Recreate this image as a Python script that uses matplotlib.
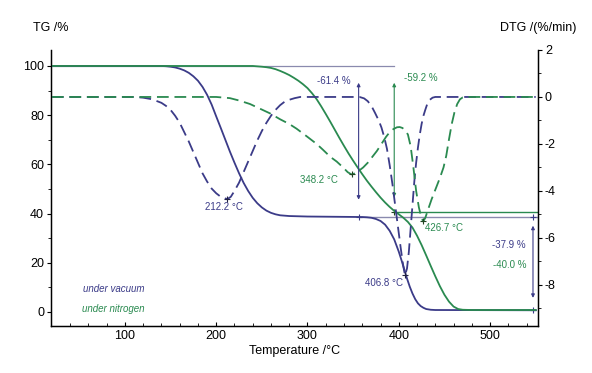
import matplotlib
matplotlib.use("Agg")
import matplotlib.pyplot as plt
import numpy as np

plt.rcParams['font.family'] = ['Liberation Sans', 'DejaVu Sans']

NAVY = '#3b3b88'
GREEN = '#2a8a50'
REF = '#8a8aae'

# TG under vacuum
tg_vac_T = [20, 140, 145, 150, 155, 160, 165, 170, 175, 180, 185, 190, 195, 200, 205, 210, 215,
            220, 225, 230, 235, 240, 245, 250, 255, 260, 265, 270, 280, 300, 360, 365, 370, 375,
            380, 385, 390, 395, 400, 403, 406, 409, 412, 415, 418, 421, 424, 427, 430, 435, 440, 550]
tg_vac = [100, 100, 99.9, 99.7, 99.4, 98.9, 98.2, 97.2, 95.8, 94, 91.5, 88.3, 84.3, 79.5, 74.8,
          70, 65.2, 60.7, 56.4, 52.5, 49.2, 46.4, 44.2, 42.5, 41.2, 40.3, 39.7, 39.3, 39, 38.8,
          38.6, 38.5, 38.3, 37.8, 37, 35.5, 33, 29.5, 24.5, 21, 17.3, 13.6, 10.3, 7.5, 5.2, 3.5,
          2.4, 1.7, 1.2, 0.9, 0.8, 0.7]

# TG under nitrogen
tg_n2_T = [20, 240, 250, 255, 260, 265, 270, 275, 280, 285, 290, 295, 300, 305, 310, 315, 320,
           325, 330, 335, 340, 345, 350, 355, 360, 365, 370, 375, 380, 385, 390, 395, 400, 405,
           410, 415, 420, 425, 430, 435, 440, 445, 450, 455, 460, 465, 470, 480, 550]
tg_n2 = [100, 100, 99.7, 99.5, 99.2, 98.7, 98, 97.2, 96.3, 95.2, 94, 92.6, 91, 88.9, 86.5, 83.6,
         80.5, 77.3, 74, 70.7, 67.5, 64.4, 61.5, 58.7, 56, 53.4, 51, 48.7, 46.5, 44.5, 42.7,
         41.1, 39.7, 38.3, 36.6, 34.3, 31, 27.2, 23, 18.7, 14.5, 10.5, 7, 4.2, 2.2, 1.2, 0.9,
         0.8, 0.8]

# DTG under vacuum
dtg_vac_T = [20, 110, 120, 130, 140, 145, 150, 155, 160, 165, 170, 175, 180, 185, 190, 195, 200,
             205, 212.2, 216, 220, 225, 230, 235, 240, 245, 250, 255, 260, 265, 270, 275, 280,
             286, 292, 357, 362, 366, 370, 374, 378, 381, 384, 387, 390, 393, 396, 399, 402,
             404.5, 406.8, 409, 411, 413, 415, 417, 419, 421, 423, 425, 427, 429, 431, 434, 437,
             440, 550]
dtg_vac = [0, 0, -0.03, -0.1, -0.25, -0.38, -0.55, -0.8, -1.1, -1.5, -1.9, -2.35, -2.8, -3.25,
           -3.6, -3.9, -4.1, -4.25, -4.35, -4.25, -4.0, -3.65, -3.2, -2.75, -2.3, -1.85, -1.45,
           -1.1, -0.8, -0.55, -0.35, -0.2, -0.12, -0.05, 0, 0, -0.06, -0.18, -0.38, -0.68, -1.0,
           -1.3, -1.7, -2.2, -2.9, -3.7, -4.6, -5.5, -6.4, -7.1, -7.6, -7.3, -6.6, -5.6, -4.6,
           -3.6, -2.8, -2.15, -1.6, -1.15, -0.8, -0.55, -0.32, -0.12, -0.03, 0, 0]

# DTG under nitrogen
dtg_n2_T = [20, 200, 215, 225, 237, 248, 259, 270, 280, 288, 300, 310, 317, 325, 332, 339, 344,
            348.2, 352, 356, 361, 366, 371, 376, 381, 386, 390, 394, 398, 401, 404, 407, 410,
            413, 416, 419, 422, 424.5, 426.7, 429, 432, 436, 440, 445, 449, 452, 455, 458, 461,
            464, 467, 470, 473, 550]
dtg_n2 = [0, 0, -0.05, -0.15, -0.3, -0.5, -0.7, -0.95, -1.15, -1.35, -1.7, -2.0, -2.25, -2.55,
          -2.75, -3.0, -3.2, -3.3, -3.25, -3.15, -3.0, -2.8, -2.55, -2.3, -2.0, -1.7, -1.5,
          -1.37, -1.29, -1.28, -1.32, -1.42, -1.6, -2.1, -3.0, -4.0, -4.7, -5.1, -5.3, -5.15,
          -4.8, -4.35, -3.95, -3.45, -3.0, -2.5, -1.8, -1.15, -0.65, -0.3, -0.1, -0.02, 0, 0]

fig = plt.figure(figsize=(5.92, 3.73), dpi=100)
ax = fig.add_axes([0.0861, 0.126, 0.8227, 0.740])
ax2 = ax.twinx()

ax.set_xlim(19, 552.5)
ax.set_ylim(-5.7, 106.5)
ax2.set_ylim(-9.75, 2.0)

# TG curves
ax.plot(tg_vac_T, tg_vac, color=NAVY, lw=1.3, zorder=3, solid_joinstyle='round')
ax.plot(tg_n2_T, tg_n2, color=GREEN, lw=1.3, zorder=3, solid_joinstyle='round')

# DTG curves
ax2.plot(dtg_vac_T, dtg_vac, color=NAVY, lw=1.3, ls=(0, (6.5, 3.2)), dash_joinstyle='round')
ax2.plot(dtg_n2_T, dtg_n2, color=GREEN, lw=1.3, ls=(0, (6.5, 3.2)), dash_joinstyle='round')

# reference lines
ax.plot([19, 395], [100, 100], color=REF, lw=0.9, zorder=2)
ax.plot([356, 552], [38.6, 38.6], color=REF, lw=1.0, zorder=2)
ax.plot([395, 552], [40.8, 40.8], color=GREEN, lw=1.0, zorder=2)

arrow_kw = dict(arrowstyle='<|-|>', lw=0.8, mutation_scale=5)
ax.annotate('', xy=(356, 94.3), xytext=(356, 44.5),
            arrowprops=dict(color=NAVY, **arrow_kw))
ax.annotate('', xy=(395, 94.3), xytext=(395, 45.5),
            arrowprops=dict(color=GREEN, **arrow_kw))
ax.annotate('', xy=(547, 36.2), xytext=(547, 4.6),
            arrowprops=dict(color=NAVY, **arrow_kw))

# markers
ax.plot([356, 547], [38.6, 38.6], ls='none', marker='+', ms=4, color=NAVY, mew=0.8)
ax.plot([547], [0.7], ls='none', marker='+', ms=4, color=NAVY, mew=0.8)
ax.plot([395], [40.8], ls='none', marker='+', ms=4, color='#224422', mew=0.8)
ax2.plot([212.2, 406.8], [-4.35, -7.6], ls='none', marker='+', ms=4, color='#222244', mew=0.8)
ax2.plot([348.2, 426.7], [-3.3, -5.3], ls='none', marker='+', ms=4, color='#224422', mew=0.8)

fs = 7
ax.text(329, 93.9, '-61.4 %', color=NAVY, fontsize=fs, ha='center', va='center')
ax.text(424, 95.0, '-59.2 %', color=GREEN, fontsize=fs, ha='center', va='center')
ax.text(521, 27.2, '-37.9 %', color=NAVY, fontsize=fs, ha='center', va='center')
ax.text(522, 19.0, '-40.0 %', color=GREEN, fontsize=fs, ha='center', va='center')
ax.text(208, 42.7, '212.2 °C', color=NAVY, fontsize=fs, ha='center', va='center')
ax.text(313, 53.7, '348.2 °C', color=GREEN, fontsize=fs, ha='center', va='center')
ax.text(449, 34.1, '426.7 °C', color=GREEN, fontsize=fs, ha='center', va='center')
ax.text(384, 11.8, '406.8 °C', color=NAVY, fontsize=fs, ha='center', va='center')
ax.text(54, 9.3, 'under vacuum', color=NAVY, fontsize=fs, style='italic', ha='left', va='center')
ax.text(53, 1.2, 'under nitrogen', color=GREEN, fontsize=fs, style='italic', ha='left', va='center')

# axes styling
ax.spines['top'].set_visible(False)
ax2.spines['top'].set_visible(False)
for s in ['left', 'bottom']:
    ax.spines[s].set_linewidth(1.0)
ax2.spines['right'].set_linewidth(1.0)

ax.set_xticks([100, 200, 300, 400, 500])
ax.set_xticks(np.arange(40, 552, 20), minor=True)
ax.set_yticks([0, 20, 40, 60, 80, 100])
ax.set_yticks(np.arange(10, 101, 20), minor=True)
ax2.set_yticks([2, 0, -2, -4, -6, -8])
ax2.set_yticklabels(['2', '0', '-2', '-4', '-6', '-8'])
ax2.set_yticks(np.arange(-9, 2, 2), minor=True)

ax.tick_params(axis='x', which='major', direction='in', length=3, labelsize=9, pad=3)
ax.tick_params(axis='x', which='minor', direction='in', length=2)
ax.tick_params(axis='y', which='major', direction='out', length=3, labelsize=9, pad=2)
ax.tick_params(axis='y', which='minor', direction='out', length=2)
ax2.tick_params(axis='y', which='major', direction='out', length=3, labelsize=9, pad=2)
ax2.tick_params(axis='y', which='minor', direction='out', length=2)

ax.set_xlabel('Temperature /°C', fontsize=9, labelpad=2)
fig.text(33 / 592, 1 - 28 / 373, 'TG /%', fontsize=9, ha='left', va='center')
fig.text(576 / 592, 1 - 28 / 373, 'DTG /(%/min)', fontsize=9, ha='right', va='center')

fig.savefig('out.png', dpi=100)
